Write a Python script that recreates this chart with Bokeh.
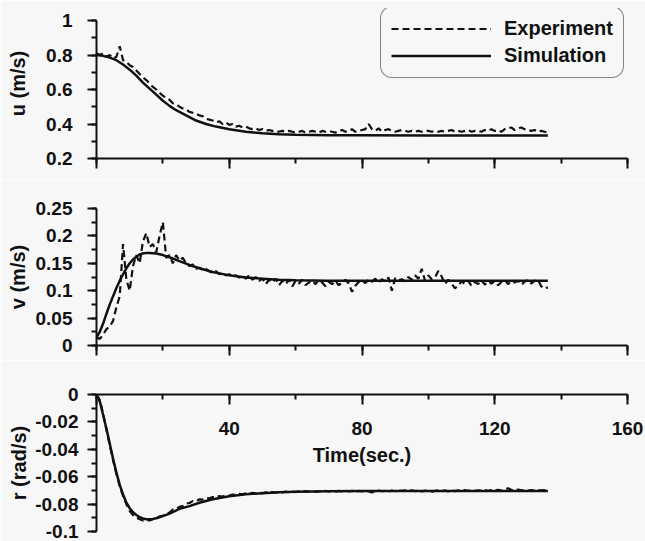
from bokeh.plotting import figure
from bokeh.layouts import column
from bokeh.models import (SingleIntervalTicker, CustomJSTickFormatter, Legend,
                          LegendItem, Range1d)
from bokeh.embed import file_html
from bokeh.resources import INLINE

# ---------------- data ----------------
t_exp = list(range(0, 137))

u_exp = [0.81, 0.80, 0.81, 0.79, 0.80, 0.78, 0.79, 0.85, 0.77, 0.76,
         0.74, 0.73, 0.71, 0.69, 0.67, 0.655, 0.635, 0.615, 0.60, 0.58,
         0.565, 0.55, 0.54, 0.52, 0.515, 0.50, 0.49, 0.485, 0.47, 0.465,
         0.46, 0.45, 0.445, 0.43, 0.425, 0.42, 0.41, 0.415, 0.40, 0.41,
         0.395, 0.40, 0.385, 0.39, 0.38, 0.385, 0.375, 0.37, 0.375, 0.365,
         0.37, 0.36, 0.365, 0.36, 0.36, 0.355, 0.36, 0.355, 0.36, 0.355,
         0.35, 0.355, 0.36, 0.35, 0.355, 0.36, 0.355, 0.35, 0.36, 0.355,
         0.36, 0.355, 0.35, 0.36, 0.365, 0.355, 0.36, 0.37, 0.355, 0.36,
         0.365, 0.37, 0.40, 0.37, 0.36, 0.375, 0.355, 0.365, 0.37, 0.36,
         0.355, 0.36, 0.365, 0.36, 0.355, 0.36, 0.355, 0.36, 0.355, 0.36,
         0.36, 0.355, 0.36, 0.355, 0.36, 0.355, 0.36, 0.365, 0.355, 0.36,
         0.355, 0.36, 0.365, 0.355, 0.36, 0.36, 0.355, 0.365, 0.36, 0.37,
         0.36, 0.365, 0.355, 0.37, 0.375, 0.38, 0.365, 0.375, 0.38, 0.37,
         0.365, 0.36, 0.365, 0.355, 0.36, 0.355, 0.35]

v_exp = [0.015, 0.012, 0.02, 0.03, 0.035, 0.045, 0.07, 0.09, 0.185, 0.12,
         0.10, 0.145, 0.165, 0.15, 0.19, 0.205, 0.18, 0.185, 0.17, 0.20,
         0.225, 0.16, 0.165, 0.15, 0.165, 0.155, 0.16, 0.15, 0.145, 0.148,
         0.14, 0.142, 0.138, 0.14, 0.135, 0.133, 0.136, 0.13, 0.132, 0.128,
         0.13, 0.126, 0.128, 0.124, 0.127, 0.122, 0.128, 0.12, 0.125, 0.118,
         0.122, 0.112, 0.12, 0.115, 0.122, 0.11, 0.118, 0.112, 0.12, 0.108,
         0.118, 0.113, 0.12, 0.11, 0.115, 0.118, 0.112, 0.12, 0.115, 0.108,
         0.116, 0.112, 0.118, 0.11, 0.115, 0.12, 0.113, 0.098, 0.109, 0.116,
         0.119, 0.114, 0.12, 0.116, 0.122, 0.115, 0.121, 0.117, 0.124, 0.100,
         0.123, 0.119, 0.121, 0.117, 0.125, 0.12, 0.128, 0.122, 0.14, 0.118,
         0.128, 0.121, 0.124, 0.136, 0.126, 0.112, 0.12, 0.113, 0.104, 0.11,
         0.117, 0.112, 0.118, 0.109, 0.116, 0.112, 0.119, 0.111, 0.117, 0.113,
         0.118, 0.11, 0.116, 0.12, 0.112, 0.117, 0.115, 0.118, 0.111, 0.116,
         0.12, 0.113, 0.118, 0.12, 0.108, 0.104, 0.106]

r_exp = [0.0, -0.004, -0.014, -0.026, -0.037, -0.048, -0.058, -0.067, -0.074, -0.080,
         -0.085, -0.088, -0.090, -0.091, -0.092, -0.0915, -0.092, -0.091, -0.0905, -0.089,
         -0.0885, -0.087, -0.0862, -0.084, -0.0835, -0.082, -0.0815, -0.0795, -0.0792, -0.0778,
         -0.078, -0.0765, -0.0768, -0.0755, -0.0758, -0.0748, -0.075, -0.0742, -0.0745, -0.0736,
         -0.0738, -0.073, -0.0734, -0.0726, -0.0729, -0.0722, -0.0727, -0.0718, -0.0723, -0.0716,
         -0.072, -0.0714, -0.0719, -0.0712, -0.0717, -0.0711, -0.0715, -0.0709, -0.0714, -0.0708,
         -0.0712, -0.0706, -0.0711, -0.0705, -0.071, -0.0704, -0.0711, -0.0706, -0.0709, -0.0703,
         -0.0708, -0.0702, -0.0709, -0.0704, -0.0707, -0.0701, -0.0708, -0.0703, -0.0711, -0.0704,
         -0.0708, -0.0702, -0.0707, -0.0715, -0.0705, -0.0701, -0.0706, -0.0703, -0.0709, -0.0701,
         -0.0706, -0.0698, -0.0704, -0.07, -0.0707, -0.0699, -0.0705, -0.0701, -0.0708, -0.0702,
         -0.0706, -0.0711, -0.0703, -0.0699, -0.0706, -0.07, -0.0708, -0.0701, -0.0705, -0.0699,
         -0.0704, -0.0698, -0.0703, -0.0697, -0.0704, -0.07, -0.0702, -0.0697, -0.0703, -0.0698,
         -0.0701, -0.0696, -0.0702, -0.0692, -0.0685, -0.0695, -0.0699, -0.0694, -0.07, -0.0696,
         -0.0701, -0.0697, -0.0702, -0.0698, -0.07, -0.0697, -0.0699]

t_u_sim = [0, 2, 4, 6, 8, 10, 12, 14, 16, 18, 20, 22, 24, 26, 28, 30, 33, 36,
           40, 45, 50, 55, 60, 70, 80, 100, 120, 136]
u_sim = [0.80, 0.795, 0.785, 0.77, 0.745, 0.715, 0.68, 0.64, 0.605, 0.57,
         0.535, 0.505, 0.48, 0.46, 0.44, 0.42, 0.40, 0.385, 0.37, 0.355,
         0.346, 0.34, 0.337, 0.335, 0.335, 0.334, 0.334, 0.334]

t_v_sim = [0, 1, 2, 3, 4, 5, 6, 7, 8, 9, 10, 11, 12, 13, 14, 15, 16, 18, 20,
           22, 25, 28, 31, 35, 40, 45, 50, 55, 60, 70, 80, 100, 120, 136]
v_sim = [0.015, 0.025, 0.04, 0.058, 0.075, 0.09, 0.105, 0.118, 0.13, 0.141,
         0.15, 0.157, 0.162, 0.166, 0.168, 0.169, 0.169, 0.168, 0.165, 0.161,
         0.154, 0.147, 0.141, 0.134, 0.128, 0.124, 0.122, 0.12, 0.119, 0.118,
         0.118, 0.118, 0.118, 0.118]

t_r_sim = [0, 1, 2, 3, 4, 5, 6, 7, 8, 9, 10, 11, 12, 13, 14, 15, 16, 17, 18,
           20, 22, 25, 28, 31, 35, 40, 45, 50, 55, 60, 70, 80, 100, 120, 136]
r_sim = [0.0, -0.005, -0.015, -0.025, -0.036, -0.047, -0.057, -0.066, -0.073,
         -0.079, -0.083, -0.086, -0.088, -0.0895, -0.0905, -0.091, -0.091,
         -0.0908, -0.0903, -0.0888, -0.087, -0.0835, -0.0815, -0.079, -0.0765,
         -0.0742, -0.0728, -0.072, -0.0714, -0.071, -0.0707, -0.0705, -0.0705,
         -0.0705, -0.0705]

x_ticks_interval = 40
# ---------------- style ----------------
FONT = "Liberation Sans"
BG = "#f7f7f7"
INK = "#111111"
W = 645


def make_fig(height, ymin, ymax, top, bottom, xloc, yint, ylabel,
             lab_standoff, ax_standoff, ybounds="auto"):
    p = figure(width=W, height=height, x_range=Range1d(0, 160),
               y_range=Range1d(ymin, ymax), output_backend="svg",
               toolbar_location=None, x_axis_location=xloc,
               min_border_left=96, min_border_right=18,
               min_border_top=top, min_border_bottom=bottom,
               background_fill_color=BG, border_fill_color=BG,
               outline_line_color=None)
    p.grid.visible = False
    for ax in (p.xaxis[0], p.yaxis[0]):
        ax.axis_line_width = 2
        ax.axis_line_color = INK
        ax.major_tick_line_width = 2
        ax.minor_tick_line_width = 2
        ax.major_tick_line_color = INK
        ax.minor_tick_line_color = INK
        ax.major_label_text_font = FONT
        ax.major_label_text_font_size = "19px"
        ax.major_label_text_font_style = "bold"
        ax.major_label_text_color = INK
        ax.axis_label_text_font = FONT
        ax.axis_label_text_font_size = "20px"
        ax.axis_label_text_font_style = "bold"
        ax.axis_label_text_color = INK
    xa = p.xaxis[0]
    xa.ticker = SingleIntervalTicker(interval=x_ticks_interval, num_minor_ticks=2)
    ya = p.yaxis[0]
    ya.ticker = SingleIntervalTicker(interval=yint, num_minor_ticks=2)
    ya.formatter = CustomJSTickFormatter(
        code="return String(parseFloat(tick.toFixed(4)));")
    ya.major_tick_out = 9
    ya.major_tick_in = 0
    ya.minor_tick_out = 5
    ya.minor_tick_in = 0
    ya.major_label_standoff = lab_standoff
    ya.axis_label = ylabel
    ya.axis_label_standoff = ax_standoff
    ya.bounds = ybounds
    return p


def plain_bottom_axis(p):
    xa = p.xaxis[0]
    xa.major_tick_out = 10
    xa.major_tick_in = 0
    xa.minor_tick_out = 5
    xa.minor_tick_in = 0
    xa.major_label_text_color = None


# panel 1: u  (frame extends 12 px above u=1 so the legend fits inside)
u_top = 1.0 + 12 * 0.8 / 138
p1 = make_fig(180, 0.2, u_top, 8, 22, "below", 0.2, "u (m/s)", 15, 14,
              ybounds=(0.2, 1.0))
plain_bottom_axis(p1)
re1 = p1.line(t_exp, u_exp, line_color=INK, line_width=2.2, line_dash="7 4")
rs1 = p1.line(t_u_sim, u_sim, line_color=INK, line_width=2.5)

legend = Legend(items=[LegendItem(label="Experiment", renderers=[re1]),
                       LegendItem(label="Simulation", renderers=[rs1])],
                location=(284, 80), orientation="vertical",
                glyph_width=100, glyph_height=23, label_height=23,
                label_standoff=13, padding=10, spacing=4, margin=0,
                label_text_font=FONT, label_text_font_size="20px",
                label_text_font_style="bold", label_text_color=INK,
                border_line_color=INK, border_line_width=1.5,
                background_fill_color=BG, background_fill_alpha=1.0)
if "border_radius" in Legend.properties():
    legend.border_radius = 12
p1.add_layout(legend, "center")

# panel 2: v
p2 = make_fig(180, 0.0, 0.25, 28, 15, "below", 0.05, "v (m/s)", 15, 4)
plain_bottom_axis(p2)
p2.line(t_exp, v_exp, line_color=INK, line_width=2.2, line_dash="7 4")
p2.line(t_v_sim, v_sim, line_color=INK, line_width=2.5)

# panel 3: r
p3 = make_fig(181, -0.1, 0.0, 34, 10, "above", 0.02, "r (rad/s)", 9, 2)
xa3 = p3.xaxis[0]
xa3.major_tick_out = 0
xa3.major_tick_in = 10
xa3.minor_tick_out = 0
xa3.minor_tick_in = 5
xa3.formatter = CustomJSTickFormatter(code="return tick == 0 ? '' : String(tick);")
xa3.major_label_standoff = -40
xa3.axis_label = "Time(sec.)"
xa3.axis_label_standoff = -47
p3.line(t_exp, r_exp, line_color=INK, line_width=2.2, line_dash="7 4")
p3.line(t_r_sim, r_sim, line_color=INK, line_width=2.5)

layout = column(p1, p2, p3, spacing=0)
open("out.html", "w").write(file_html(layout, INLINE))
